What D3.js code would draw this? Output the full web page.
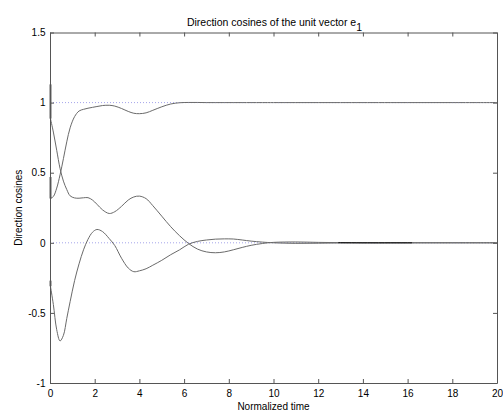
<!DOCTYPE html>
<html>
<head>
<meta charset="utf-8">
<script src="https://cdn.jsdelivr.net/npm/d3@7"></script>
<style>
  html, body { margin: 0; padding: 0; background: #fff; }
  svg { display: block; font-family: "Liberation Sans", Arial, sans-serif; }
</style>
</head>
<body>
<svg id="chart" width="503" height="415"></svg>
<script>
// Sample times (normalized) shared by the three direction-cosine series
const time = [0.02, 0.15, 0.3, 0.45, 0.6, 0.75, 0.9, 1.1, 1.3, 1.5, 1.7, 1.9, 2.1, 2.35,
  2.65, 2.9, 3.2, 3.5, 3.75, 4.0, 4.3, 4.6, 5.0, 5.4, 5.8, 6.2, 6.6, 7.0, 7.4, 7.8,
  8.2, 8.6, 9.0, 9.5, 10, 11, 12, 13, 14, 16, 18, 20];

// First direction cosine: starts near 0.89, settles to 0
const cosA = [0.886, 0.79, 0.66, 0.53, 0.44, 0.38, 0.335, 0.32, 0.318, 0.321, 0.322, 0.305,
  0.275, 0.235, 0.209, 0.222, 0.26, 0.305, 0.327, 0.333, 0.315, 0.265, 0.19, 0.115, 0.05,
  -0.005, -0.045, -0.065, -0.071, -0.065, -0.05, -0.033, -0.018, -0.005, 0.003, 0.006,
  0.003, 0.001, 0, 0, 0, 0];

// Second direction cosine: starts near 0.32, settles to 1
const cosB = [0.316, 0.33, 0.39, 0.485, 0.6, 0.72, 0.82, 0.9, 0.94, 0.952, 0.96, 0.966,
  0.972, 0.979, 0.981, 0.975, 0.958, 0.937, 0.924, 0.921, 0.927, 0.945, 0.97, 0.99, 0.999,
  1.001, 1.001, 1, 1, 1, 1, 1, 1, 1, 1, 1, 1, 1, 1, 1, 1, 1];

// Third direction cosine: starts near -0.31, dips to -0.7, settles to 0
const cosC = [-0.31, -0.44, -0.62, -0.70, -0.66, -0.54, -0.42, -0.27, -0.15, -0.05, 0.025,
  0.075, 0.095, 0.08, 0.03, -0.02, -0.11, -0.18, -0.206, -0.2, -0.185, -0.16, -0.125,
  -0.085, -0.05, -0.01, 0.01, 0.02, 0.026, 0.028, 0.027, 0.02, 0.012, 0.005, 0, -0.004,
  -0.003, -0.001, 0, 0, 0, 0];

// Values at t = 0, just before the fast initial transient of each series
const initialJump = [1.13, 0.47, -0.27];

// Interval where the settled curves are drawn darker
const darkSpan = [12.9, 16.2];

// Reference levels drawn as dotted lines
const refLevels = [1, 0];

const xTicks = [0, 2, 4, 6, 8, 10, 12, 14, 16, 18, 20];
const yTicks = [-1, -0.5, 0, 0.5, 1, 1.5];

const plot = { left: 50, right: 497, top: 32.5, bottom: 383 };

const svg = d3.select("#chart");
const x = d3.scaleLinear().domain([0, 20]).range([plot.left, plot.right]);
const y = d3.scaleLinear().domain([-1, 1.5]).range([plot.bottom, plot.top]);

const series = [cosA, cosB, cosC].map(vals => time.map((t, i) => [t, vals[i]]));

const axisColor = "#555";
const curveColor = "#6a6a6a";
const font = "10px";

// Dotted reference lines
svg.append("g").selectAll("line").data(refLevels).join("line")
  .attr("x1", x(0)).attr("x2", x(20))
  .attr("y1", d => y(d)).attr("y2", d => y(d))
  .attr("stroke", "#a4a4ea").attr("stroke-width", 1)
  .attr("stroke-dasharray", "1,2");

const line = d3.line()
  .x(d => x(d[0])).y(d => y(d[1]))
  .curve(d3.curveCatmullRom.alpha(0.5));

// Curves
svg.append("g").selectAll("path").data(series).join("path")
  .attr("d", line)
  .attr("fill", "none")
  .attr("stroke", curveColor)
  .attr("stroke-width", 1);

// Darker settled stretch
svg.append("defs").append("clipPath").attr("id", "darkClip")
  .append("rect")
  .attr("x", x(darkSpan[0])).attr("width", x(darkSpan[1]) - x(darkSpan[0]))
  .attr("y", plot.top).attr("height", plot.bottom - plot.top);
svg.append("g").attr("clip-path", "url(#darkClip)")
  .selectAll("path").data([series[0]]).join("path")
  .attr("d", line)
  .attr("fill", "none")
  .attr("stroke", "#111")
  .attr("stroke-width", 1);

// Initial transient at t = 0
svg.append("g").selectAll("line").data(initialJump).join("line")
  .attr("x1", x(0) + 0.5).attr("x2", x(0) + 0.5)
  .attr("y1", d => y(d))
  .attr("y2", (d, i) => y(series[i][0][1]))
  .attr("stroke", "#000").attr("stroke-width", 1.6);

// Axes (ticks pointing inward, box around the plot)
function styleAxis(g) {
  g.select(".domain").attr("stroke", axisColor);
  g.selectAll(".tick line").attr("stroke", axisColor);
  g.selectAll(".tick text").attr("fill", "#000")
    .style("font-family", '"Liberation Sans", Arial, sans-serif')
    .style("font-size", font);
}

svg.append("g")
  .attr("transform", `translate(0,${plot.bottom})`)
  .call(d3.axisBottom(x).tickValues(xTicks).tickFormat(d3.format("d"))
    .tickSizeInner(-4).tickSizeOuter(0).tickPadding(6.5))
  .call(styleAxis);

svg.append("g")
  .attr("transform", `translate(0,${plot.top})`)
  .call(d3.axisTop(x).tickValues(xTicks).tickFormat("")
    .tickSizeInner(-4).tickSizeOuter(0))
  .call(styleAxis);

svg.append("g")
  .attr("transform", `translate(${plot.left},0)`)
  .call(d3.axisLeft(y).tickValues(yTicks).tickFormat(d => String(d))
    .tickSizeInner(-4).tickSizeOuter(0).tickPadding(4.5))
  .call(styleAxis);

svg.append("g")
  .attr("transform", `translate(${plot.right},0)`)
  .call(d3.axisRight(y).tickValues(yTicks).tickFormat("")
    .tickSizeInner(-4).tickSizeOuter(0))
  .call(styleAxis);

// Title with subscript
const title = svg.append("text")
  .attr("x", (plot.left + plot.right) / 2 + 1)
  .attr("y", 25.5)
  .attr("text-anchor", "middle")
  .style("font-size", "10.5px")
  .attr("fill", "#000");
title.append("tspan").text("Direction cosines of the unit vector e");
title.append("tspan").attr("dy", 5).text("1");

// Axis labels
svg.append("text")
  .attr("x", (plot.left + plot.right) / 2)
  .attr("y", 409.5)
  .attr("text-anchor", "middle")
  .style("font-size", font)
  .attr("fill", "#000")
  .text("Normalized time");

svg.append("text")
  .attr("transform", `translate(22,${(plot.top + plot.bottom) / 2}) rotate(-90)`)
  .attr("text-anchor", "middle")
  .style("font-size", font)
  .attr("fill", "#000")
  .text("Direction cosines");
</script>
</body>
</html>
